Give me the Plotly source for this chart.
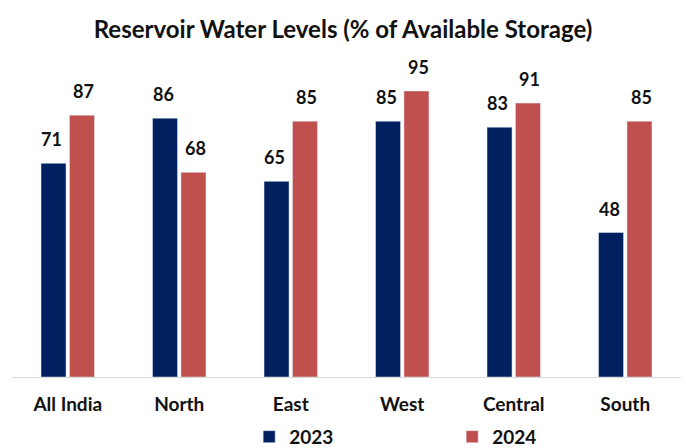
import plotly.graph_objects as go

regions = ["All India", "North", "East", "West", "Central", "South"]
levels_2023 = [71, 86, 65, 85, 83, 48]
levels_2024 = [87, 68, 85, 95, 91, 85]

FONT = "Lato, 'Open Sans', sans-serif"
NAVY = "#002060"
RED = "#C0504D"
INK = "#111111"

fig = go.Figure()
fig.add_trace(go.Bar(x=regions, y=levels_2023, name="2023", marker_color=NAVY))
fig.add_trace(go.Bar(x=regions, y=levels_2024, name="2024", marker_color=RED))

# value labels floated a little above each bar
for values, dx in ((levels_2023, -16), (levels_2024, 16)):
    for region, v in zip(regions, values):
        fig.add_annotation(
            x=region, y=v, text=f"<b>{v}</b>", showarrow=False,
            xshift=dx, yshift=11, yanchor="bottom",
            font=dict(family=FONT, size=18, color=INK),
        )

fig.update_layout(
    width=686, height=448,
    margin=dict(l=12, r=5, t=76, b=71, autoexpand=False),
    paper_bgcolor="white", plot_bgcolor="white",
    barmode="group", bargap=0.49, bargroupgap=0.12,
    title=dict(
        text="<b>Reservoir Water Levels (% of Available Storage)</b>",
        x=0.5, xanchor="center", y=0.935, yanchor="middle",
        font=dict(family=FONT, size=24, color=INK),
    ),
    font=dict(family=FONT, color=INK),
    xaxis=dict(
        showline=True, linecolor="#d9d9d9", linewidth=1,
        ticks="", ticklabelstandoff=10,
        tickfont=dict(family=FONT, size=19, color=INK, weight="bold"),
    ),
    yaxis=dict(range=[0, 100], visible=False),
    showlegend=True,
    legend=dict(
        orientation="h", x=0.3545, xanchor="left",
        yref="container", y=0.025, yanchor="middle",
        font=dict(family=FONT, size=19, color=INK, weight="bold"),
        entrywidth=158, itemwidth=30,
    ),
)

fig.write_html("out.html")
